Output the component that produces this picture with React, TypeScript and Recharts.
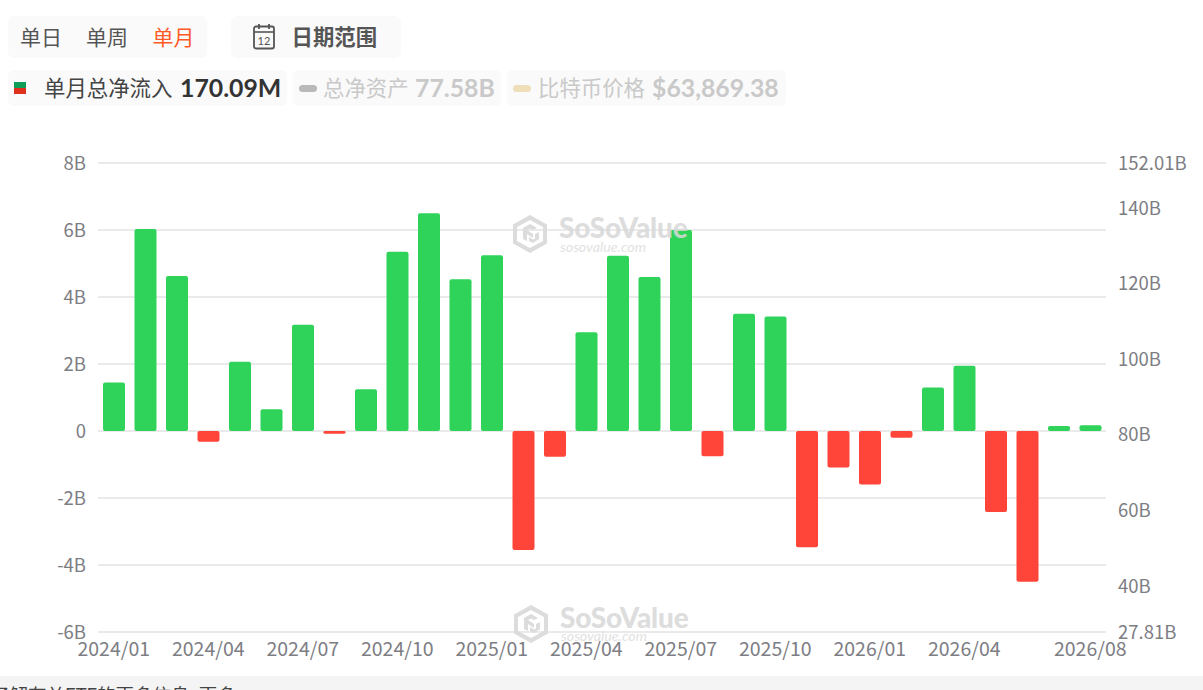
import React from "react";
import { ComposedChart, Bar, Cell, Line, XAxis, YAxis, CartesianGrid } from "recharts";

const months = [
  "2024/01","2024/02","2024/03","2024/04","2024/05","2024/06","2024/07","2024/08","2024/09","2024/10","2024/11","2024/12",
  "2025/01","2025/02","2025/03","2025/04","2025/05","2025/06","2025/07","2025/08","2025/09","2025/10","2025/11","2025/12",
  "2026/01","2026/02","2026/03","2026/04","2026/05","2026/06","2026/07","2026/08",
];
const netInflow = [
  1.45,6.03,4.63,-0.32,2.07,0.65,3.17,-0.08,1.25,5.35,6.5,4.53,
  5.25,-3.55,-0.77,2.95,5.23,4.6,6.0,-0.75,3.5,3.42,-3.47,-1.09,
  -1.6,-0.2,1.3,1.95,-2.42,-4.5,0.15,0.17,
];
const xTicks = ["2024/01","2024/04","2024/07","2024/10","2025/01","2025/04","2025/07","2025/10","2026/01","2026/04","2026/08"];
const leftTicks = [-6,-4,-2,0,2,4,6,8];
const rightTicks = [27.81,40,60,80,100,120,140,152.01];

const data = months.map((m, i) => ({ month: m, inflow: netInflow[i], assets: null }));

const FONT = 'Lato, "Noto Sans CJK SC", sans-serif';
const TICK = '"Noto Sans CJK SC", sans-serif';
const GREEN = "#2fd35a";
const RED = "#ff4539";
const TICK_COLOR = "#7d7d84";

const Logo = ({ x, y }: { x: number; y: number }) => (
  <svg style={{ position: "absolute", left: x, top: y }} width="36" height="40" viewBox="0 0 36 40">
    <path d="M18 1 L35 10.5 L35 29.5 L18 39 L1 29.5 L1 10.5 Z M18 6 L5 13 L5 27 L18 34 L31 27 L31 13 Z" fill="#dcdcdc" fillRule="evenodd" />
    <path d="M11 14 L18 10 L25 14 L21 16 L18 14.5 L15 16 L21 20 L21 24 L15 20 L15 27 L11 25 Z M23 20 L27 18 L27 25 L21 29 L17 27 L17 23 L21 25.5 L23 24.5 Z" fill="#dcdcdc" />
  </svg>
);

const Watermark = ({ x, y, sub }: { x: number; y: number; sub: number }) => (
  <>
    <Logo x={x} y={y} />
    <div style={{ position: "absolute", left: x + 47, top: y - 2, fontFamily: FONT, fontWeight: 900, fontSize: 28, lineHeight: "30px", color: "#d8d8d8", opacity: 0.85, letterSpacing: -0.2, whiteSpace: "nowrap" }}>SoSoValue</div>
    <div style={{ position: "absolute", left: x + 48, top: y + sub, fontFamily: FONT, fontStyle: "italic", fontSize: 14.3, lineHeight: "15px", color: "#e2e2e2", whiteSpace: "nowrap" }}>sosovalue.com</div>
  </>
);

const pill: React.CSSProperties = { position: "absolute", background: "#fafafa", borderRadius: 6 };
const txt = (x: number, y: number, size: number, color: string, weight = 400): React.CSSProperties => ({
  position: "absolute", left: x, top: y, fontFamily: FONT, fontSize: size, lineHeight: "24px", color, fontWeight: weight, whiteSpace: "nowrap",
});

export default function App() {
  return (
    <div style={{ position: "absolute", left: 0, top: 0, width: 1203, height: 690, overflow: "hidden", background: "#fff" }}>
      <div style={{ ...pill, left: 8, top: 16, width: 199, height: 42 }} />
      <div style={txt(20, 25, 21, "#555")}>单日</div>
      <div style={txt(86, 25, 21, "#555")}>单周</div>
      <div style={txt(152.5, 25, 21, "#ff5a26")}>单月</div>

      <div style={{ ...pill, left: 231, top: 16, width: 170, height: 42 }} />
      <svg style={{ position: "absolute", left: 252, top: 23 }} width="24" height="27" viewBox="0 0 24 27">
        <rect x="2" y="3.5" width="20" height="22" rx="2" fill="none" stroke="#555" strokeWidth="1.8" />
        <line x1="2" y1="9" x2="22" y2="9" stroke="#555" strokeWidth="1.6" />
        <line x1="7" y1="1" x2="7" y2="6" stroke="#555" strokeWidth="1.8" />
        <line x1="17" y1="1" x2="17" y2="6" stroke="#555" strokeWidth="1.8" />
        <text x="12" y="22" textAnchor="middle" fontSize="11" fontFamily={FONT} fill="#555">12</text>
      </svg>
      <div style={txt(291.5, 25, 21.4, "#555", 700)}>日期范围</div>

      <div style={{ ...pill, left: 8, top: 70, width: 279, height: 36 }} />
      <div style={{ position: "absolute", left: 14, top: 82, width: 12, height: 6, background: "#0f9d58" }} />
      <div style={{ position: "absolute", left: 14, top: 88, width: 12, height: 6, background: "#e0301e" }} />
      <div style={txt(44, 76, 21.4, "#444")}>单月总净流入</div>
      <div style={txt(180, 76, 24.8, "#333", 700)}>170.09M</div>

      <div style={{ ...pill, left: 293, top: 70, width: 208, height: 36 }} />
      <div style={{ position: "absolute", left: 299, top: 85, width: 18, height: 7, borderRadius: 4, background: "#b9b9b9" }} />
      <div style={txt(323, 76, 21.4, "#c9c9c9")}>总净资产</div>
      <div style={txt(415, 76, 24.8, "#c9c9c9", 700)}>77.58B</div>

      <div style={{ ...pill, left: 507, top: 70, width: 279, height: 36 }} />
      <div style={{ position: "absolute", left: 513, top: 85, width: 18, height: 7, borderRadius: 4, background: "#eedfb8" }} />
      <div style={txt(538, 76, 21.4, "#c9c9c9")}>比特币价格</div>
      <div style={txt(652, 76, 24.8, "#c9c9c9", 700)}>$63,869.38</div>

      <div style={{ position: "absolute", left: 0, top: 129 }}>
        <ComposedChart width={1203} height={541} data={data} margin={{ top: 34, right: 0, bottom: 0, left: 0 }}>
          <CartesianGrid yAxisId="left" vertical={false} stroke="#e3e3e3" strokeWidth={1.5} />
          <XAxis
            dataKey="month"
            ticks={xTicks}
            interval={0}
            axisLine={false}
            tickLine={false}
            tick={{ fontSize: 19.5, fill: TICK_COLOR, fontFamily: TICK }}
            tickMargin={4}
            height={38}
          />
          <YAxis
            yAxisId="left"
            orientation="left"
            width={98}
            domain={[-6, 8]}
            ticks={leftTicks}
            interval={0}
            axisLine={false}
            tickLine={false}
            tickMargin={6}
            tickFormatter={(v: number) => (v === 0 ? "0" : `${v}B`)}
            tick={{ fontSize: 18.5, fill: TICK_COLOR, fontFamily: TICK }}
          />
          <YAxis
            yAxisId="right"
            orientation="right"
            width={97}
            domain={[27.81, 152.01]}
            ticks={rightTicks}
            interval={0}
            allowDataOverflow
            axisLine={false}
            tickLine={false}
            tickMargin={6}
            tickFormatter={(v: number) => `${v}B`}
            tick={{ fontSize: 18.5, fill: TICK_COLOR, fontFamily: TICK }}
          />
          <Bar yAxisId="left" dataKey="inflow" barSize={22} radius={2} isAnimationActive={false}>
            {data.map((d) => (
              <Cell key={d.month} fill={d.inflow >= 0 ? GREEN : RED} />
            ))}
          </Bar>
          <Line yAxisId="right" dataKey="assets" stroke="none" dot={false} isAnimationActive={false} />
        </ComposedChart>
      </div>

      <Watermark x={512} y={214} sub={25} />
      <Watermark x={513} y={604} sub={24} />

      <div style={{ position: "absolute", left: 0, top: 676, width: 1203, height: 14, background: "#f4f4f4", overflow: "hidden" }}>
        <div style={{ position: "absolute", left: -9, top: 7, fontFamily: FONT, fontSize: 18.5, lineHeight: "24px", color: "#444", whiteSpace: "nowrap" }}>了解有关ETF的更多信息. 更多</div>
      </div>
    </div>
  );
}
